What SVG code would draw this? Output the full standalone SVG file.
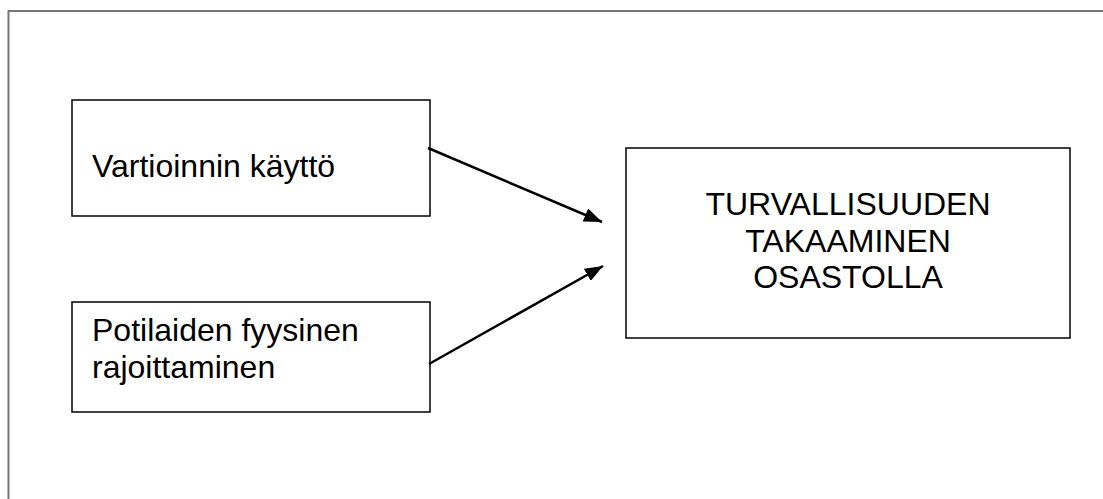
<svg xmlns="http://www.w3.org/2000/svg" width="1103" height="499" viewBox="0 0 1103 499">
<defs>
<style>
.box{fill:#fff;stroke:#000;stroke-width:1.5}
.frame{fill:none;stroke:#777;stroke-width:2}
.t{font-family:"Liberation Sans",Arial,sans-serif;font-size:32px;fill:#000}
.c{text-anchor:middle}
.conn{stroke:#000;stroke-width:2.5;fill:none}
</style>
<marker id="arr" viewBox="0 0 18 14" refX="18" refY="7" markerWidth="18" markerHeight="14" orient="auto" markerUnits="userSpaceOnUse">
<path d="M0,0 L18,7 L0,14 Z" fill="#000"/>
</marker>
</defs>
<rect width="1103" height="499" fill="#fff"/>
<path class="frame" d="M8.5,499 V11 H1103"/>
<g id="node-vartiointi">
<rect class="box" x="72" y="100" width="358" height="116"/>
<text class="t" x="92" y="177">Vartioinnin käyttö</text>
</g>
<g id="node-rajoittaminen">
<rect class="box" x="72" y="302" width="358" height="110"/>
<text class="t" x="92" y="341">Potilaiden fyysinen</text>
<text class="t" x="92" y="378">rajoittaminen</text>
</g>
<g id="node-turvallisuus">
<rect class="box" x="626" y="148" width="444" height="190"/>
<text class="t c" x="848" y="215">TURVALLISUUDEN</text>
<text class="t c" x="848" y="252">TAKAAMINEN</text>
<text class="t c" x="848" y="288">OSASTOLLA</text>
</g>
<g id="connectors">
<line class="conn" x1="428" y1="148" x2="602" y2="222" marker-end="url(#arr)"/>
<line class="conn" x1="429" y1="364" x2="603" y2="266" marker-end="url(#arr)"/>
</g>
</svg>
